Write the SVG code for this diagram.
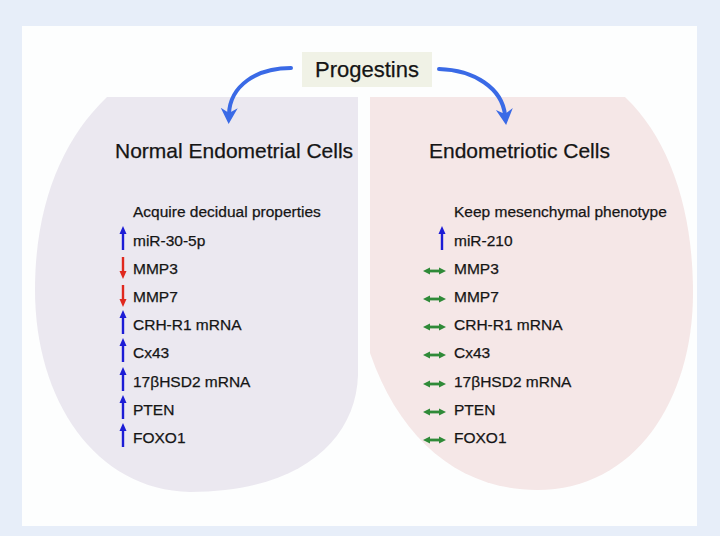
<svg xmlns="http://www.w3.org/2000/svg" width="720" height="536" viewBox="0 0 720 536">
<defs>
<style>
.t{font-family:"Liberation Sans",Arial,sans-serif;fill:#151515;stroke:#151515;stroke-width:0.25}
.title{font-size:21px}
.sub{font-size:15.5px}
.it{font-size:15.5px}
.up{stroke:#1c1cd6;stroke-width:2.4;fill:none}
.dn{stroke:#e0281e;stroke-width:2.4;fill:none}
.eq{stroke:#2f8a38;stroke-width:2.8;fill:none}
.big{stroke:#3a6ae6;stroke-width:4;fill:none;stroke-linecap:round}
</style>
<marker id="bigHead" markerUnits="userSpaceOnUse" markerWidth="18" markerHeight="18" refX="6" refY="9" orient="auto" viewBox="0 0 18 18">
<path d="M0,0.5 L16,9 L0,17.5 L5,9 Z" fill="#3a6ae6"/>
</marker>
<marker id="upHead" markerUnits="userSpaceOnUse" markerWidth="8" markerHeight="8" refX="2" refY="4" orient="auto" viewBox="0 0 8 8">
<path d="M0,0.5 L8,4 L0,7.5 Z" fill="#1c1cd6"/>
</marker>
<marker id="dnHead" markerUnits="userSpaceOnUse" markerWidth="8" markerHeight="8" refX="2" refY="4" orient="auto" viewBox="0 0 8 8">
<path d="M0,0.5 L8,4 L0,7.5 Z" fill="#e0281e"/>
</marker>
<marker id="eqHead" markerUnits="userSpaceOnUse" markerWidth="8" markerHeight="8" refX="2" refY="4" orient="auto-start-reverse" viewBox="0 0 8 8">
<path d="M0,0.5 L7,4 L0,7.5 Z" fill="#2f8a38"/>
</marker>
</defs>
<rect x="0" y="0" width="720" height="536" fill="#e7eef9"/>
<rect x="22" y="26" width="675" height="500" fill="#fdfefe"/>

<g id="normal">
<path d="M107,97 L358,97 L358,375 C356,440 300,492 190,492 C95,490 35,400 35,290 C35,205 62,140 107,97 Z" fill="#ebe8f0"/>
<text class="t title" x="115" y="158">Normal Endometrial Cells</text>
<text class="t sub" x="133" y="217">Acquire decidual properties</text>
</g>

<g id="endometriotic">
<path d="M370,97 L625,97 C670,140 693,210 693,293 C693,400 635,490 537,490 C460,490 400,440 370,353 Z" fill="#f5e7e7"/>
<text class="t title" x="429" y="158">Endometriotic Cells</text>
<text class="t sub" x="454" y="217">Keep mesenchymal phenotype</text>
</g>

<g id="progestins">
<rect x="302" y="52" width="130" height="35" fill="#f0f2e6"/>
<text class="t" x="367" y="77" font-size="22" text-anchor="middle">Progestins</text>
</g>

<g id="connectors">
<path class="big" d="M291,68 C256,68 230,86 229,114" marker-end="url(#bigHead)"/>
<path class="big" d="M439,69 C474,70 502,88 505,115" marker-end="url(#bigHead)"/>
</g>

<g id="normal-items">
<line class="up" x1="123" y1="250" x2="123" y2="232" marker-end="url(#upHead)"/>
<text class="t it" x="133" y="246">miR-30-5p</text>
<line class="dn" x1="123" y1="257" x2="123" y2="273" marker-end="url(#dnHead)"/>
<text class="t it" x="133" y="274">MMP3</text>
<line class="dn" x1="123" y1="285" x2="123" y2="301" marker-end="url(#dnHead)"/>
<text class="t it" x="133" y="302">MMP7</text>
<line class="up" x1="123" y1="334" x2="123" y2="316" marker-end="url(#upHead)"/>
<text class="t it" x="133" y="330">CRH-R1 mRNA</text>
<line class="up" x1="123" y1="362" x2="123" y2="344" marker-end="url(#upHead)"/>
<text class="t it" x="133" y="358">Cx43</text>
<line class="up" x1="123" y1="391" x2="123" y2="373" marker-end="url(#upHead)"/>
<text class="t it" x="133" y="387">17βHSD2 mRNA</text>
<line class="up" x1="123" y1="419" x2="123" y2="401" marker-end="url(#upHead)"/>
<text class="t it" x="133" y="415">PTEN</text>
<line class="up" x1="123" y1="447" x2="123" y2="429" marker-end="url(#upHead)"/>
<text class="t it" x="133" y="443">FOXO1</text>
</g>

<g id="endometriotic-items">
<line class="up" x1="442" y1="250" x2="442" y2="232" marker-end="url(#upHead)"/>
<text class="t it" x="454" y="246">miR-210</text>
<line class="eq" x1="428" y1="271" x2="441" y2="271" marker-start="url(#eqHead)" marker-end="url(#eqHead)"/>
<text class="t it" x="454" y="274">MMP3</text>
<line class="eq" x1="428" y1="299" x2="441" y2="299" marker-start="url(#eqHead)" marker-end="url(#eqHead)"/>
<text class="t it" x="454" y="302">MMP7</text>
<line class="eq" x1="428" y1="327" x2="441" y2="327" marker-start="url(#eqHead)" marker-end="url(#eqHead)"/>
<text class="t it" x="454" y="330">CRH-R1 mRNA</text>
<line class="eq" x1="428" y1="355" x2="441" y2="355" marker-start="url(#eqHead)" marker-end="url(#eqHead)"/>
<text class="t it" x="454" y="358">Cx43</text>
<line class="eq" x1="428" y1="384" x2="441" y2="384" marker-start="url(#eqHead)" marker-end="url(#eqHead)"/>
<text class="t it" x="454" y="387">17βHSD2 mRNA</text>
<line class="eq" x1="428" y1="412" x2="441" y2="412" marker-start="url(#eqHead)" marker-end="url(#eqHead)"/>
<text class="t it" x="454" y="415">PTEN</text>
<line class="eq" x1="428" y1="440" x2="441" y2="440" marker-start="url(#eqHead)" marker-end="url(#eqHead)"/>
<text class="t it" x="454" y="443">FOXO1</text>
</g>
</svg>
